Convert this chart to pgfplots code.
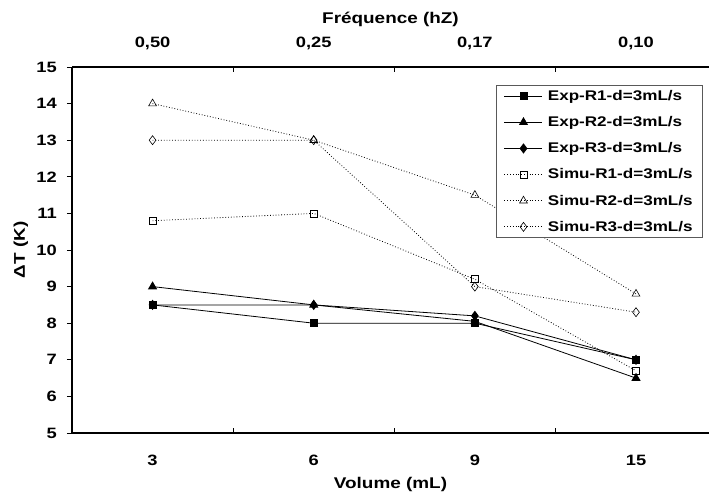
\documentclass[border=0pt]{standalone}
\usepackage{fontspec}
\setmainfont{Liberation Sans}[FakeStretch=1.22]
\usepackage{pgfplots}
\pgfplotsset{compat=1.18}
\begin{document}
\begin{tikzpicture}[font=\bfseries]
\path[use as bounding box] (-72pt,-60pt) rectangle (637pt,433pt);
\pgfplotsset{
  common/.style={
    at={(0pt,0pt)}, anchor=south west,
    scale only axis, width=637pt, height=366pt,
    xmin=-0.5, xmax=3.453, ymin=5, ymax=15,
    axis line style={line width=1.5pt,-},
    tick align=inside,
    xtick={0,1,2,3},
    minor xtick={0.5,1.5,2.5},
    major tick length=5pt, minor tick length=5pt,
    every major x tick/.append style={draw=none},
    every minor x tick/.append style={line width=0.8pt,black},
    tick label style={font=\fontsize{15}{17}\selectfont\bfseries},
    label style={font=\fontsize{15.5}{17}\selectfont\bfseries},
  }
}
\begin{axis}[common,
  axis x line*=top, axis y line=none,
  xticklabels={{0,50},{0,25},{0,17},{0,10}},
  xticklabel style={anchor=base, yshift=19pt},
  xlabel={Fréquence (hZ)},
  xlabel style={at={(axis description cs:0.5,1.1175)}, anchor=base},
]
\addplot[draw=none, forget plot] coordinates {(0,10)};
\end{axis}
\begin{axis}[common,
  axis x line*=bottom, axis y line*=left,
  xticklabels={3,6,9,15},
  xticklabel style={anchor=base, yshift=-32pt},
  ytick={5,6,...,15},
  every major y tick/.append style={xshift=-5pt, line width=0.8pt, black},
  /pgf/number format/assume math mode=true,
  yticklabel style={anchor=east, inner sep=0pt, xshift=-15pt},
  xlabel={Volume (mL)},
  xlabel style={at={(axis description cs:0.5,-0.1503)}, anchor=base},
  ylabel={ΔT (K)},
  ylabel style={at={(axis description cs:-0.0738,0.5)}, anchor=base},
  legend style={at={(rel axis cs:0.9906,0.951)}, anchor=north east,
    draw=black!65, line width=0.8pt, font=\fontsize{14}{16}\selectfont\bfseries,
    nodes={inner xsep=2pt},
    /tikz/every odd column/.append style={column sep=3pt},
    row sep=10.5pt, inner xsep=8pt, inner ysep=3pt},
  legend cell align=left,
  legend image code/.code={\draw[mark repeat=2,mark phase=2] plot coordinates {(0pt,0pt) (19pt,0pt) (38pt,0pt)};},
  legend entries={Exp-R1-d=3mL/s, Exp-R2-d=3mL/s, Exp-R3-d=3mL/s, Simu-R1-d=3mL/s, Simu-R2-d=3mL/s, Simu-R3-d=3mL/s},
]
\addlegendimage{black, line width=0.8pt, mark=square*, mark size=3.5pt, mark options={solid}}
\addlegendimage{black, line width=0.8pt, mark=triangle*, mark size=4.5pt, mark options={solid}}
\addlegendimage{black, line width=0.8pt, mark=diamond*, mark size=4.5pt, mark options={solid}}
\addlegendimage{black, dotted, line width=0.8pt, mark=square, mark size=3.5pt, mark options={solid, fill=white, line width=0.6pt}}
\addlegendimage{black, dotted, line width=0.8pt, mark=triangle, mark size=4.5pt, mark options={solid, fill=white, line width=0.6pt}}
\addlegendimage{black, dotted, line width=0.8pt, mark=diamond, mark size=4.5pt, mark options={solid, fill=white, line width=0.6pt}}
% Simulations
\addplot[forget plot, black, dotted, line width=0.8pt, mark=square, mark size=3.5pt, mark options={solid, fill=white, line width=0.6pt}]
  coordinates {(0,10.8) (1,11.0) (2,9.2) (3,6.7)};
\addplot[forget plot, black, dotted, line width=0.8pt, mark=triangle, mark size=4.5pt, mark options={solid, fill=white, line width=0.6pt}]
  coordinates {(0,14.0) (1,13.0) (2,11.5) (3,8.8)};
\addplot[forget plot, black, dotted, line width=0.8pt, mark=diamond, mark size=4.5pt, mark options={solid, fill=white, line width=0.6pt}]
  coordinates {(0,13.0) (1,13.0) (2,9.0) (3,8.3)};
% Experiments
\addplot[forget plot, black, line width=0.8pt, mark=diamond*, mark size=4.5pt]
  coordinates {(0,8.5) (1,8.5) (2,8.2) (3,7.0)};
\addplot[forget plot, black, line width=0.8pt, mark=triangle*, mark size=4.5pt]
  coordinates {(0,9.0) (1,8.5) (2,8.05) (3,6.5)};
\addplot[forget plot, black, line width=0.8pt, mark=square*, mark size=3.5pt]
  coordinates {(0,8.5) (1,8.0) (2,8.0) (3,7.0)};
\end{axis}
\end{tikzpicture}
\end{document}
